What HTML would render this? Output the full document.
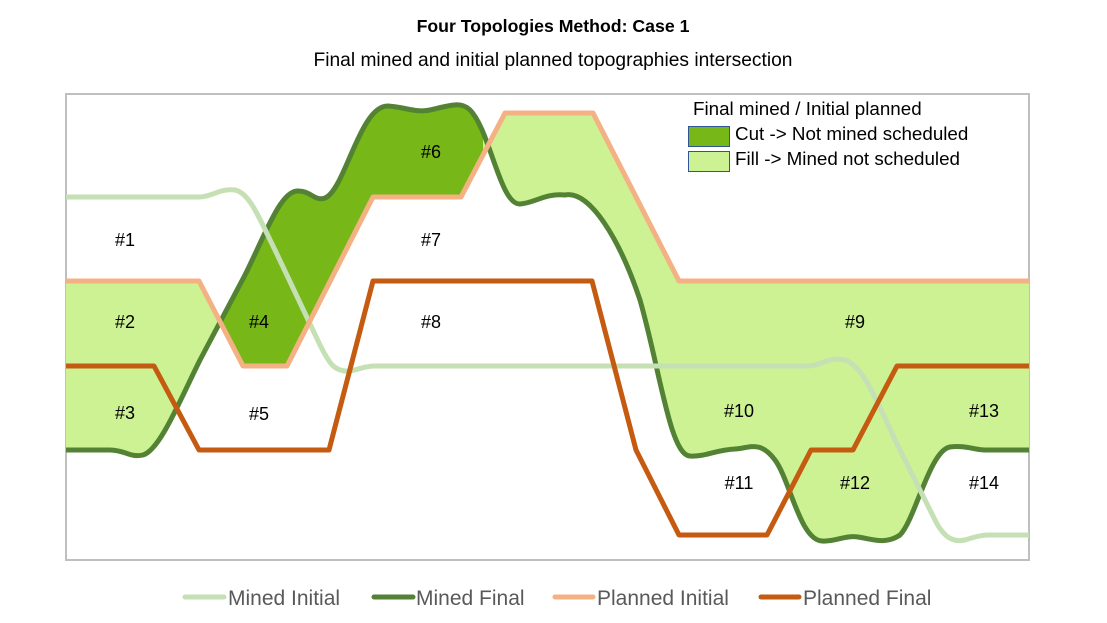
<!DOCTYPE html>
<html><head><meta charset="utf-8"><style>
body{margin:0;background:#fff;}
svg{display:block;font-family:"Liberation Sans",Calibri,sans-serif;}
</style></head><body>
<svg width="1107" height="623" viewBox="0 0 1107 623" xmlns="http://www.w3.org/2000/svg">
<rect width="1107" height="623" fill="#fff"/>
<text x="553" y="32" text-anchor="middle" font-size="17.7" font-weight="bold" fill="#000">Four Topologies Method: Case 1</text>
<text x="553" y="66" text-anchor="middle" font-size="19.2" fill="#000">Final mined and initial planned topographies intersection</text>
<rect x="66" y="94" width="963" height="466" fill="#fff" stroke="#bfbfbf" stroke-width="2"/>
<defs>
<clipPath id="dk"><rect x="220" y="90" width="263" height="480"/></clipPath>
<clipPath id="lt"><rect x="60" y="90" width="160" height="480"/><rect x="483" y="90" width="546" height="480"/></clipPath>
</defs>
<path d="M66,281 L199,281 L243,366 L287,366 L373,197 L461,197 L505,113 L593,113 L679,281 L1029,281 L1029,450 L985,450 C975,450 965,445 950,447 C930,450 915,520 900,535 C885,545 872,539 858,537 C845,535 835,542 822,541 C800,540 790,480 775,460 C760,440 750,448 735,449 C715,450 705,457 690,456 C670,455 660,370 640,300 C620,240 590,190 565,195 C545,193 535,203 520,204 C500,205 490,130 470,110 C460,100 445,107 430,110 C415,113 405,107 388,106 C360,105 345,190 325,198 C315,202 310,190 297,191 C280,192 265,235 245,275 L200,360 C180,400 160,450 143,455 C130,458 125,450 110,450 L66,450 Z" fill="#CCF294" clip-path="url(#lt)"/>
<path d="M66,281 L199,281 L243,366 L287,366 L373,197 L461,197 L505,113 L593,113 L679,281 L1029,281 L1029,450 L985,450 C975,450 965,445 950,447 C930,450 915,520 900,535 C885,545 872,539 858,537 C845,535 835,542 822,541 C800,540 790,480 775,460 C760,440 750,448 735,449 C715,450 705,457 690,456 C670,455 660,370 640,300 C620,240 590,190 565,195 C545,193 535,203 520,204 C500,205 490,130 470,110 C460,100 445,107 430,110 C415,113 405,107 388,106 C360,105 345,190 325,198 C315,202 310,190 297,191 C280,192 265,235 245,275 L200,360 C180,400 160,450 143,455 C130,458 125,450 110,450 L66,450 Z" fill="#77B717" clip-path="url(#dk)"/>
<g fill="none" stroke-width="5" stroke-linejoin="round">
<path d="M66,450 L110,450 C125,450 130,458 143,455 C160,450 180,400 200,360 L245,275 C265,235 280,192 297,191 C310,190 315,202 325,198 C345,190 360,105 388,106 C405,107 415,113 430,110 C445,107 460,100 470,110 C490,130 500,205 520,204 C535,203 545,193 565,195 C590,190 620,240 640,300 C660,370 670,455 690,456 C705,457 715,450 735,449 C750,448 760,440 775,460 C790,480 800,540 822,541 C835,542 845,535 858,537 C872,539 885,545 900,535 C915,520 930,450 950,447 C965,445 975,450 985,450 L1029,450" stroke="#548235"/>
<path d="M66,197 L199,197 C212,197 220,188 235,190 C250,193 260,220 275,250 L320,345 C330,365 335,372 350,371 C360,369 365,366 375,366 L808,366 C820,366 830,356 845,360 C865,366 880,410 900,450 L935,520 C945,540 955,542 965,540 C975,537 980,535 990,535 L1029,535" stroke="#C5E0B4"/>
<path d="M66,281 L199,281 L243,366 L287,366 L373,197 L461,197 L505,113 L593,113 L679,281 L1029,281" stroke="#F4B183"/>
<path d="M66,366 L154,366 L199,450 L329,450 L373,281 L592,281 L636,450 L679,535 L767,535 L811,450 L853,450 L897,366 L1029,366" stroke="#C55A11"/>
</g>
<g font-size="18" fill="#000" text-anchor="middle">
<text x="125" y="246">#1</text><text x="125" y="328">#2</text><text x="125" y="419">#3</text>
<text x="259" y="328">#4</text><text x="259" y="420">#5</text><text x="431" y="158">#6</text>
<text x="431" y="246">#7</text><text x="431" y="328">#8</text><text x="855" y="328">#9</text>
<text x="739" y="417">#10</text><text x="739" y="489">#11</text><text x="855" y="489">#12</text>
<text x="984" y="417">#13</text><text x="984" y="489">#14</text>
</g>
<text x="693" y="115" font-size="18.8" fill="#000">Final mined / Initial planned</text>
<rect x="688.5" y="126.5" width="41" height="20" fill="#77B717" stroke="#2F5597"/>
<rect x="688.5" y="151.5" width="41" height="20" fill="#CCF294" stroke="#2F5597"/>
<text x="735" y="140" font-size="18.8" fill="#000">Cut -&gt; Not mined scheduled</text>
<text x="735" y="165" font-size="18.8" fill="#000">Fill -&gt; Mined not scheduled</text>
<g stroke-width="5" stroke-linecap="round">
<line x1="185" y1="597" x2="224" y2="597" stroke="#C5E0B4"/>
<line x1="374" y1="597" x2="413" y2="597" stroke="#548235"/>
<line x1="555" y1="597" x2="593" y2="597" stroke="#F4B183"/>
<line x1="761" y1="597" x2="799" y2="597" stroke="#C55A11"/>
</g>
<g font-size="21" fill="#595959">
<text x="228" y="605">Mined Initial</text>
<text x="416" y="605">Mined Final</text>
<text x="597" y="605">Planned Initial</text>
<text x="803" y="605">Planned Final</text>
</g>
</svg>
</body></html>
